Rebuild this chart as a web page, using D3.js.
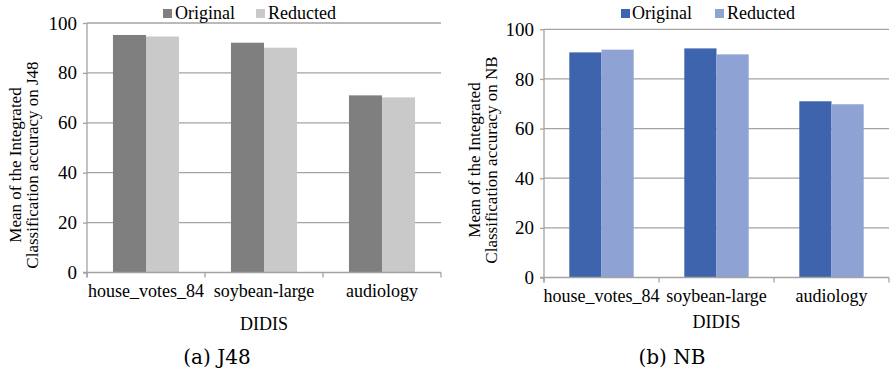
<!DOCTYPE html>
<html>
<head>
<meta charset="utf-8">
<script src="https://cdn.jsdelivr.net/npm/d3@7"></script>
<style>
  html, body { margin: 0; padding: 0; background: #fff; }
  svg { display: block; }
</style>
</head>
<body>
<script>
const categories = ["house_votes_84", "soybean-large", "audiology"];
const seriesNames = ["Original", "Reducted"];
const j48Original = [95.2, 92.1, 71.0];
const j48Reducted = [94.6, 90.1, 70.2];
const nbOriginal = [90.7, 92.3, 71.0];
const nbReducted = [91.8, 89.9, 69.8];
const yTicks = [0, 20, 40, 60, 80, 100];

const W = 893, H = 375;
const SERIF = "'Times New Roman', 'Liberation Serif', 'FreeSerif', Tinos, 'DejaVu Serif'";
const svg = d3.select("body").append("svg").attr("width", W).attr("height", H);

const panels = [
  { x0: 87, x1: 441, yTop: 23, yBot: 272.5, data: [j48Original, j48Reducted],
    colors: ["#7f7f7f", "#c9c9c9"], ylab1: "Mean of the Integrated", ylab2: "Classification accuracy on J48",
    ylabX: 15, ylabY: 165, catY: 297, didisY: 330, caption: "(a) J48", capX: 217,
    legend: [{sq: 163, tx: 175}, {sq: 256, tx: 268}], legY: 13 },
  { x0: 544, x1: 889, yTop: 29.3, yBot: 277.5, data: [nbOriginal, nbReducted],
    colors: ["#3f64ae", "#8ea3d4"], ylab1: "Mean of the Integrated", ylab2: "Classification accuracy on NB",
    ylabX: 474, ylabY: 160, catY: 302, didisY: 328, caption: "(b) NB", capX: 672,
    legend: [{sq: 621, tx: 632}, {sq: 715, tx: 727}], legY: 13 }
];

function serifText(sel, size) {
  return sel.attr("font-family", SERIF).style("font-family", SERIF).style("font-size", size + "px").attr("fill", "#000");
}

panels.forEach(p => {
  const g = svg.append("g");
  const x = d3.scaleBand().domain(categories).range([p.x0, p.x1]).paddingInner(0.44).paddingOuter(0.22);
  const xs = d3.scaleBand().domain(seriesNames).range([0, x.bandwidth()]);
  const y = d3.scaleLinear().domain([0, 100]).range([p.yBot, p.yTop]);
  const gridColor = "#a3a3a3";

  g.append("g").selectAll("line").data(yTicks.filter(t => t > 0)).join("line")
    .attr("x1", p.x0).attr("x2", p.x1)
    .attr("y1", d => y(d)).attr("y2", d => y(d))
    .attr("stroke", gridColor).attr("stroke-width", 1.3);

  seriesNames.forEach((s, si) => {
    g.append("g").selectAll("rect").data(categories).join("rect")
      .attr("x", c => x(c) + xs(s))
      .attr("width", xs.bandwidth())
      .attr("y", (c, i) => y(p.data[si][i]))
      .attr("height", (c, i) => y(0) - y(p.data[si][i]))
      .attr("fill", p.colors[si]);
  });

  const yAxis = d3.axisLeft(y).tickValues(yTicks).tickSize(4).tickPadding(6).tickFormat(d3.format("d"));
  const ya = g.append("g").attr("transform", `translate(${p.x0},0)`).call(yAxis);
  ya.attr("font-family", SERIF).attr("font-size", 19);
  ya.select(".domain").attr("stroke", gridColor).attr("stroke-width", 1.3).attr("d", `M0,${p.yTop}V${p.yBot + 5}`);
  ya.selectAll(".tick line").attr("stroke", gridColor).attr("stroke-width", 1.3);
  serifText(ya.selectAll(".tick text"), 19);

  const step = x.step();
  const bounds = d3.range(categories.length + 1).map(i => p.x0 + i * step);
  g.append("line").attr("x1", p.x0 - 4).attr("x2", p.x1).attr("y1", p.yBot).attr("y2", p.yBot)
    .attr("stroke", gridColor).attr("stroke-width", 1.3);
  g.append("g").selectAll("line").data(bounds).join("line")
    .attr("x1", d => d).attr("x2", d => d).attr("y1", p.yBot).attr("y2", p.yBot + 5)
    .attr("stroke", gridColor).attr("stroke-width", 1.3);
  serifText(g.append("g").selectAll("text").data(categories).join("text")
    .attr("x", c => x(c) + x.bandwidth() / 2).attr("y", p.catY)
    .attr("text-anchor", "middle").text(c => c), 18);

  serifText(g.append("text").attr("x", (p.x0 + p.x1) / 2).attr("y", p.didisY)
    .attr("text-anchor", "middle").text("DIDIS"), 18);

  const yt = serifText(g.append("text").attr("transform", `translate(${p.ylabX},${p.ylabY}) rotate(-90)`)
    .attr("text-anchor", "middle"), 17);
  yt.append("tspan").attr("x", 0).attr("dy", "0.35em").text(p.ylab1);
  yt.append("tspan").attr("x", 0).attr("dy", "1.0em").text(p.ylab2);

  seriesNames.forEach((s, si) => {
    g.append("rect").attr("x", p.legend[si].sq).attr("y", p.legY - 4).attr("width", 9).attr("height", 9)
      .attr("fill", p.colors[si]);
    serifText(g.append("text").attr("x", p.legend[si].tx).attr("y", p.legY + 5.5).text(s), 18);
  });

  g.append("text").attr("x", p.capX).attr("y", 364).attr("text-anchor", "middle")
    .style("font-family", "'DejaVu Serif'").style("font-size", "20px").text(p.caption);
});
</script>
</body>
</html>
